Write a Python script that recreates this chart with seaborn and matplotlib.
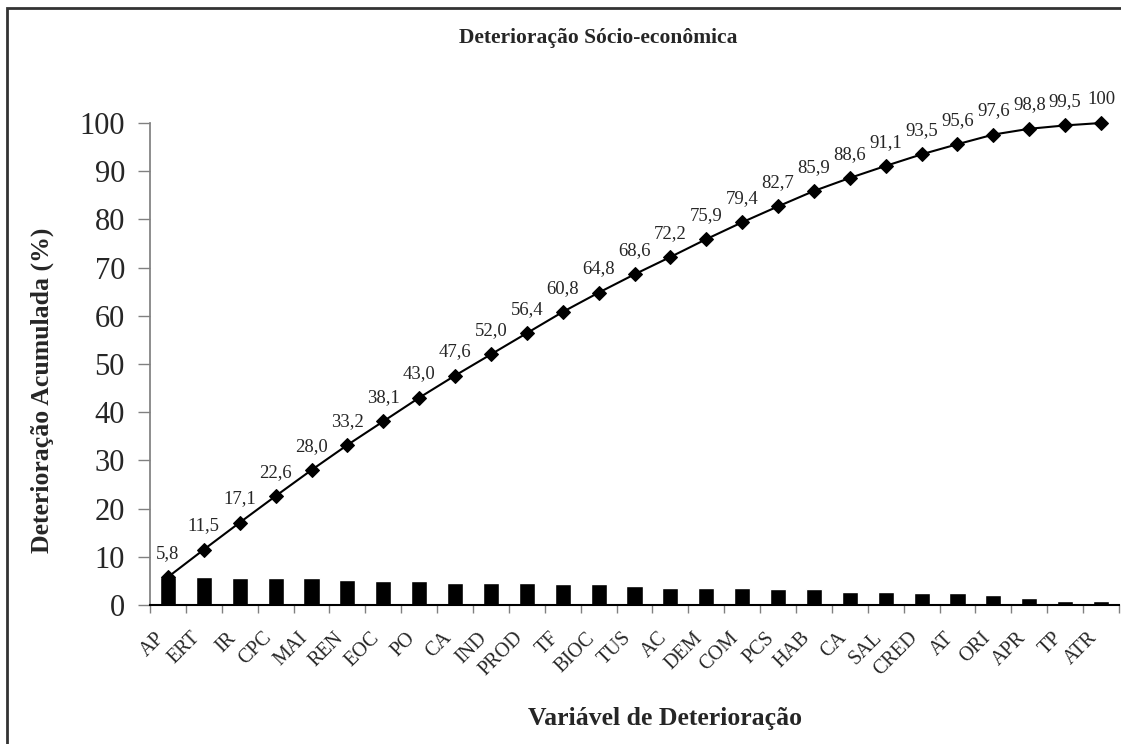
# Pareto chart: socio-economic deterioration, bars + cumulative line
import numpy as np
import seaborn as sns
import matplotlib.pyplot as plt
import matplotlib.transforms as mtransforms
from matplotlib.patches import Rectangle

# data
variables = ["AP", "ERT", "IR", "CPC", "MAI", "REN", "EOC", "PO", "CA", "IND",
             "PROD", "TF", "BIOC", "TUS", "AC", "DEM", "COM", "PCS", "HAB", "CA",
             "SAL", "CRED", "AT", "ORI", "APR", "TP", "ATR"]
deterioracao = [5.9, 5.9, 5.6, 5.5, 5.5, 5.2, 4.9, 4.9, 4.6, 4.6,
                4.6, 4.4, 4.3, 3.9, 3.6, 3.6, 3.6, 3.3, 3.3, 2.7,
                2.7, 2.4, 2.4, 2.0, 1.4, 0.8, 0.8]
acumulada = [5.8, 11.5, 17.1, 22.6, 28.0, 33.2, 38.1, 43.0, 47.6, 52.0,
             56.4, 60.8, 64.8, 68.6, 72.2, 75.9, 79.4, 82.7, 85.9, 88.6,
             91.1, 93.5, 95.6, 97.6, 98.8, 99.5, 100.0]
yticks = [0, 10, 20, 30, 40, 50, 60, 70, 80, 90, 100]

sns.set_theme(style="white")
plt.rcParams['font.family'] = ['Liberation Serif', 'DejaVu Serif']

fig = plt.figure(figsize=(11.21, 7.44), dpi=100)
ax = fig.add_axes([150 / 1121, 1 - 605 / 744, 969 / 1121, 482 / 744])

pos = np.arange(len(variables))

# bars (individual share) and cumulative line
sns.barplot(x=pos, y=deterioracao, color="black", saturation=1, width=0.45, ax=ax)
sns.lineplot(x=pos, y=acumulada, color="black", linewidth=1.5, marker="D",
             markersize=7, markeredgecolor="black", ax=ax, clip_on=False)

# value labels over the cumulative points
for x, v in zip(pos, acumulada):
    txt = "100" if v == 100 else f"{v:.1f}".replace(".", ",")
    ax.annotate(txt, (x, v), xytext=(0, 11), textcoords="offset points",
                ha="center", va="bottom", fontsize=13.5)

ax.set_xlim(-0.5, len(variables) - 0.5)
ax.set_ylim(0, 100)
ax.set_yticks(yticks)
ax.tick_params(axis="y", labelsize=22, length=9, width=1, color="#808080",
               direction="out", left=True, pad=9)

# category labels at bar centres, tick marks at category boundaries
ax.set_xticks(pos)
ax.set_xticklabels(variables, rotation=45, ha="right", rotation_mode="anchor",
                   fontsize=14.5)
ax.set_xticks(np.arange(len(variables) + 1) - 0.5, minor=True)
ax.tick_params(axis="x", which="major", length=0, pad=17)
ax.tick_params(axis="x", which="minor", length=6, width=1, color="#808080",
               direction="out", bottom=True)
offset = mtransforms.ScaledTranslation(-13 / 100, 0, fig.dpi_scale_trans)
for lbl in ax.get_xticklabels():
    lbl.set_transform(lbl.get_transform() + offset)

for side in ["top", "right"]:
    ax.spines[side].set_visible(False)
ax.spines["left"].set_color("#808080")
ax.spines["bottom"].set_color("black")
ax.spines["bottom"].set_linewidth(1.5)

ax.set_xlabel("")
ax.set_ylabel("")
fig.text(598 / 1121, 1 - 38 / 744, "Deterioração Sócio-econômica",
         ha="center", va="center", fontsize=15.5, fontweight="bold")
fig.text(665 / 1121, 1 - 718 / 744, "Variável de Deterioração",
         ha="center", va="center", fontsize=18.5, fontweight="bold")
fig.text(42 / 1121, 1 - 390 / 744, "Deterioração Acumulada (%)",
         ha="center", va="center", rotation=90, fontsize=18.5, fontweight="bold")

# outer chart-area frame
fig.patches.append(Rectangle((7 / 1121, -0.1), 1.2, 1.1 - 8 / 744,
                             transform=fig.transFigure, fill=False,
                             edgecolor="#333333", linewidth=2))

fig.savefig("out.png", dpi=100)
